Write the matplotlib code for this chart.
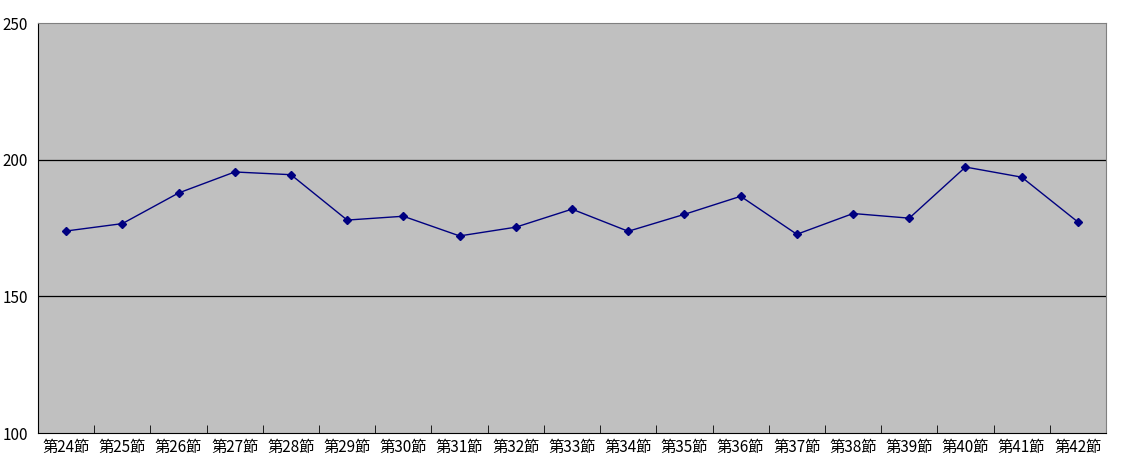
import matplotlib
matplotlib.use("Agg")
import matplotlib.pyplot as plt

plt.rcParams['font.family'] = ['Noto Sans CJK JP', 'DejaVu Sans']

# data
rounds = [f"第{n}節" for n in range(24, 43)]
values = [173.9, 176.6, 187.8, 195.5, 194.5, 177.9, 179.3, 172.1, 175.3, 181.9,
          173.8, 180.0, 186.6, 172.7, 180.3, 178.6, 197.3, 193.6, 177.2]

fig = plt.figure(figsize=(11.22, 4.65), dpi=100)
ax = fig.add_axes([38 / 1122, 32 / 465, 1068 / 1122, 410 / 465])
ax.set_facecolor('#c0c0c0')

x = list(range(len(rounds)))
ax.plot(x, values, color='#000080', linewidth=1.0, marker='D', markersize=4.5)

ax.set_xlim(-0.5, len(rounds) - 0.5)
ax.set_ylim(100, 250)
ax.set_yticks([100, 150, 200, 250])
for yv in [150, 200]:
    ax.axhline(yv, color='black', linewidth=0.9, zorder=1)

ax.set_xticks(x)
ax.set_xticklabels(rounds, fontsize=11)
ax.set_xticks([i + 0.5 for i in x[:-1]], minor=True)
ax.tick_params(axis='x', which='major', length=0, pad=4)
ax.tick_params(axis='x', which='minor', direction='in', length=6, color='black')
ax.tick_params(axis='y', length=0, labelsize=11, pad=7)

for side in ['left', 'bottom']:
    ax.spines[side].set_color('black')
for side in ['top', 'right']:
    ax.spines[side].set_color('#808080')

fig.savefig('out.png', dpi=100)
